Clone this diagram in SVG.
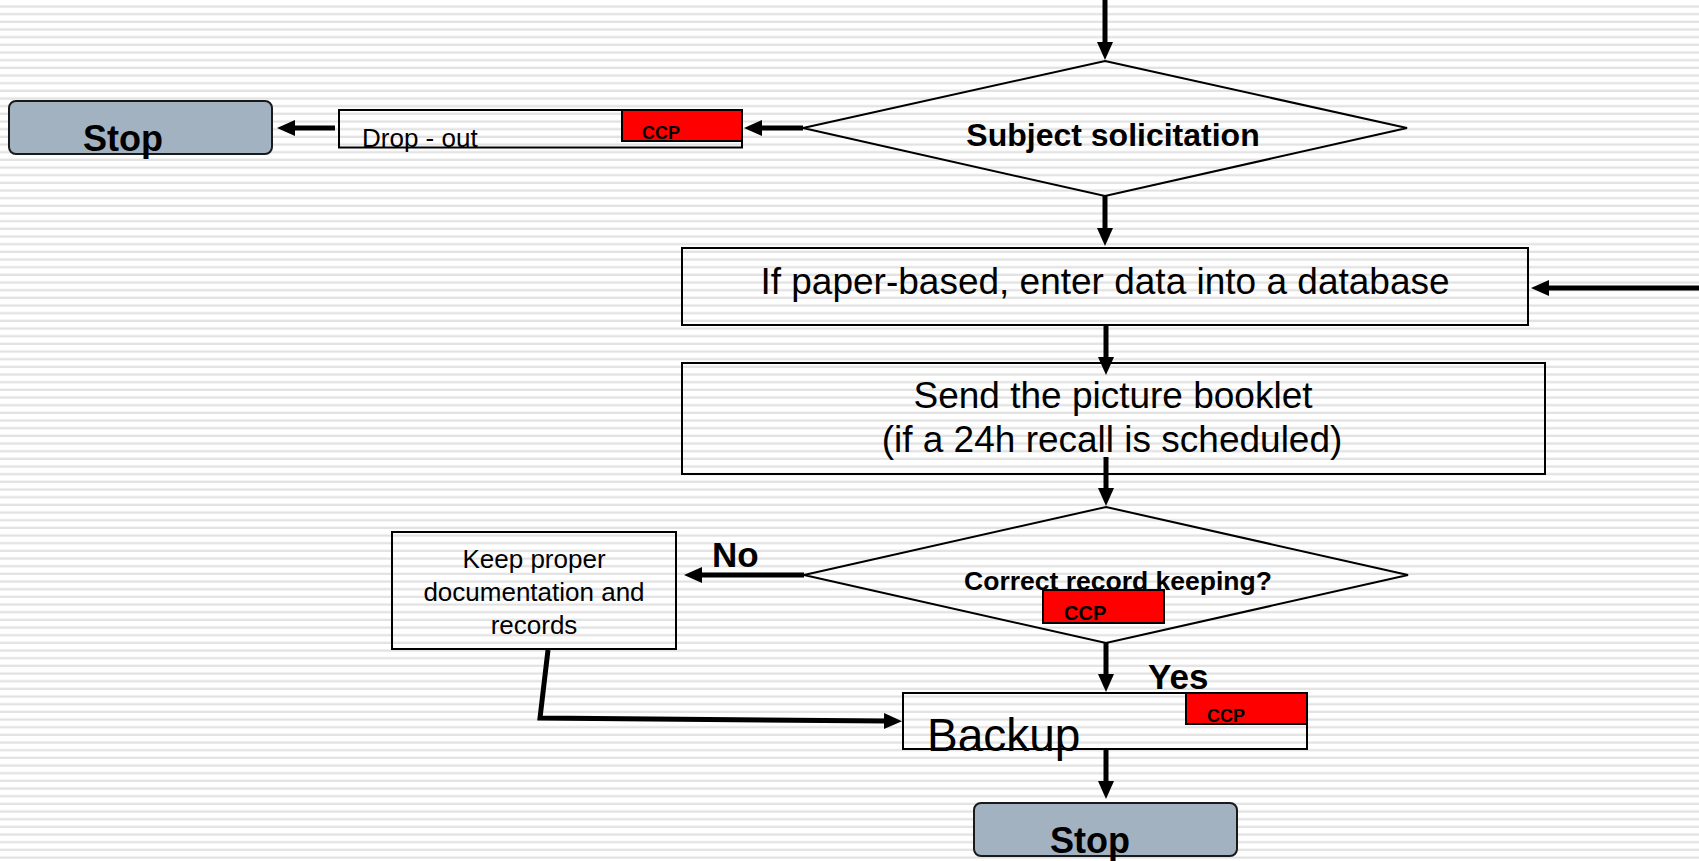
<svg xmlns="http://www.w3.org/2000/svg" width="1699" height="861" viewBox="0 0 1699 861">
<style>
text{font-family:"Liberation Sans",Arial,sans-serif;fill:#000}
.b{font-weight:bold}
.c{text-anchor:middle}
.box{fill:none;stroke:#000;stroke-width:2}
.dia{fill:none;stroke:#000;stroke-width:2}
.stop{fill:#a3b2c1;stroke:#1a1a1a;stroke-width:2}
.ccp{fill:#ff0000;stroke:#000;stroke-width:2}
.con{fill:none;stroke:#000;stroke-width:5;marker-end:url(#ah)}
</style>
<defs>
<pattern id="stripes" patternUnits="userSpaceOnUse" x="0" y="0" width="1699" height="7.667">
<rect x="0" y="5.1" width="1699" height="3.2" fill="#eeeeee"/>
<rect x="0" y="6.0" width="1699" height="1.4" fill="#dfdfdf"/>
</pattern>
<marker id="ah" markerUnits="userSpaceOnUse" markerWidth="20" markerHeight="18" refX="1" refY="8" orient="auto">
<path d="M0,0 L18,8 L0,16 z" fill="#000"/>
</marker>
</defs>
<rect width="1699" height="861" fill="#ffffff"/>
<rect width="1699" height="861" fill="url(#stripes)"/>

<g id="connectors">
<line class="con" x1="1105" y1="0" x2="1105" y2="43"/>
<line class="con" x1="803" y1="128" x2="761" y2="128"/>
<line class="con" x1="335" y1="128" x2="294" y2="128"/>
<line class="con" x1="1105" y1="196" x2="1105" y2="229"/>
<line class="con" x1="1699" y1="288" x2="1548" y2="288"/>
<line class="con" x1="1106" y1="325" x2="1106" y2="358"/>
<line class="con" x1="1106" y1="457" x2="1106" y2="489"/>
<line class="con" x1="804" y1="575" x2="701" y2="575"/>
<line class="con" x1="1106" y1="643" x2="1106" y2="675"/>
<polyline class="con" points="548,650 540,718 885,721"/>
<line class="con" x1="1106" y1="749" x2="1106" y2="782"/>
</g>

<g id="stop-top">
<rect class="stop" x="9" y="101" width="263" height="53" rx="7"/>
<text class="b c" x="123" y="151" font-size="36">Stop</text>
</g>

<g id="dropout">
<rect class="box" x="339" y="110" width="403" height="37.5"/>
<rect class="ccp" x="622" y="110" width="120" height="31"/>
<text x="362" y="147" font-size="26">Drop - out</text>
<text class="b" x="642" y="139" font-size="18">CCP</text>
</g>

<g id="subject-solicitation">
<polygon class="dia" points="1105,61 1407,128 1105,196 803,128"/>
<text class="b c" x="1113" y="146" font-size="32">Subject solicitation</text>
</g>

<g id="paper-based">
<rect class="box" x="682" y="248" width="846" height="77"/>
<text class="c" x="1105" y="294" font-size="37">If paper-based, enter data into a database</text>
</g>

<g id="picture-booklet">
<rect class="box" x="682" y="363" width="863" height="111"/>
<text class="c" x="1113" y="408" font-size="37">Send the picture booklet</text>
<text class="c" x="1112" y="452" font-size="37">(if a 24h recall is scheduled)</text>
</g>

<g id="record-keeping">
<polygon class="dia" points="1106,507 1408,575 1106,643 804,575"/>
<text class="b c" x="1118" y="590" font-size="26.5">Correct record keeping?</text>
<rect class="ccp" x="1043" y="590" width="121" height="33"/>
<text class="b" x="1064" y="620" font-size="20">CCP</text>
</g>

<g id="documentation">
<rect class="box" x="392" y="532" width="284" height="117"/>
<text class="c" x="534" y="568" font-size="26">Keep proper</text>
<text class="c" x="534" y="601" font-size="26">documentation and</text>
<text class="c" x="534" y="634" font-size="26">records</text>
</g>

<g id="labels">
<text class="b" x="712" y="567" font-size="35">No</text>
<text class="b" x="1148" y="689" font-size="35">Yes</text>
</g>

<g id="backup">
<rect class="box" x="903" y="693" width="404" height="56"/>
<rect class="ccp" x="1186" y="693" width="121" height="31"/>
<text class="b" x="1207" y="722" font-size="18">CCP</text>
<text x="927" y="751" font-size="46">Backup</text>
</g>

<g id="stop-bottom">
<rect class="stop" x="974" y="803" width="263" height="53" rx="7"/>
<text class="b c" x="1090" y="853" font-size="36">Stop</text>
</g>
</svg>
